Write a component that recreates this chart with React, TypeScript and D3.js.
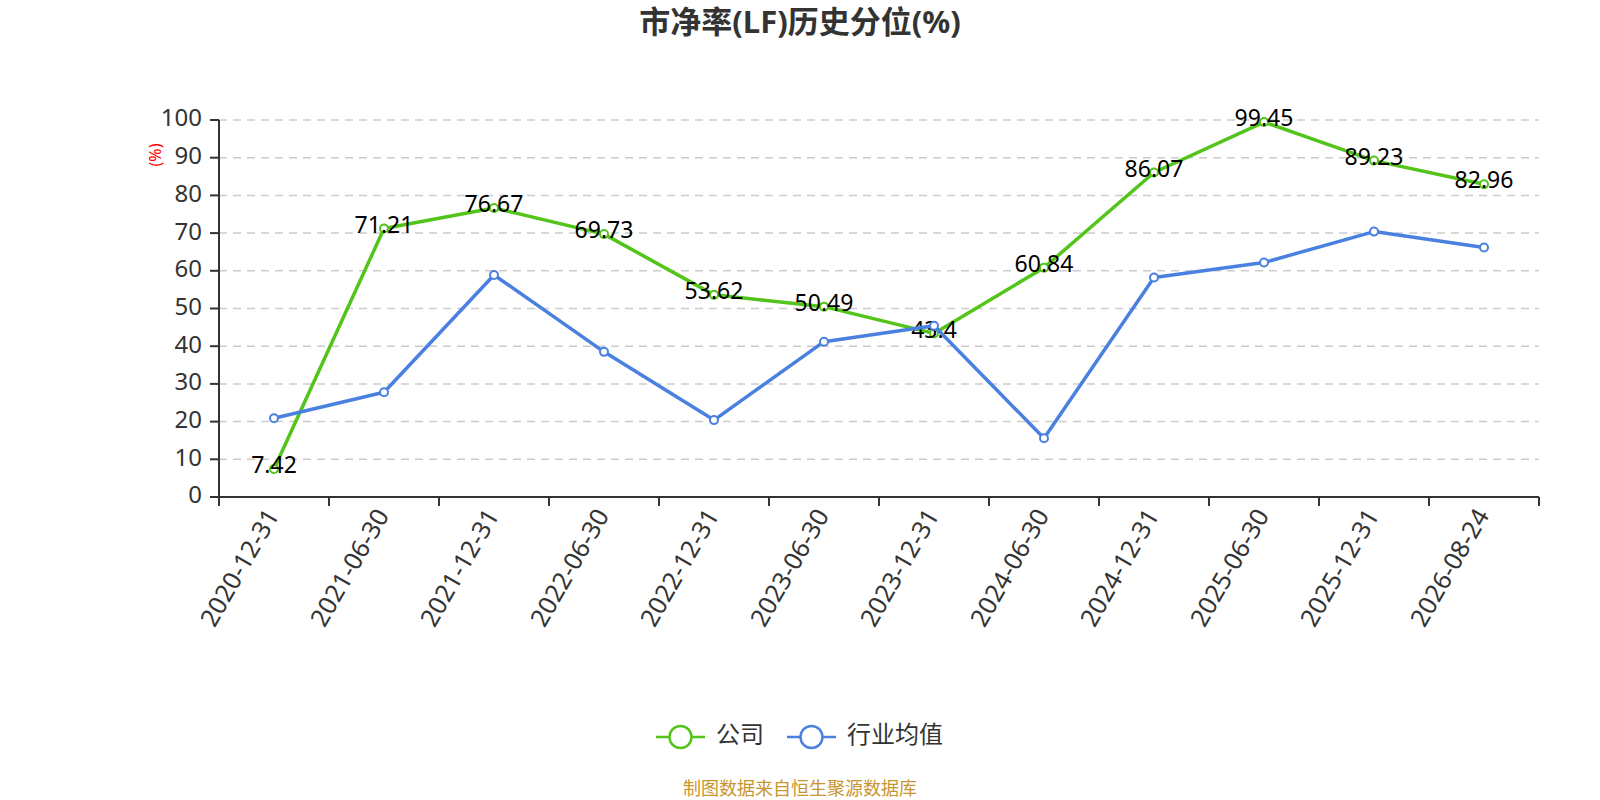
import * as d3 from 'd3';

const categories = [
  '2020-12-31', '2021-06-30', '2021-12-31', '2022-06-30', '2022-12-31', '2023-06-30',
  '2023-12-31', '2024-06-30', '2024-12-31', '2025-06-30', '2025-12-31', '2026-08-24',
];
const companyValues = [7.42, 71.21, 76.67, 69.73, 53.62, 50.49, 43.4, 60.84, 86.07, 99.45, 89.23, 82.96];
const industryValues = [20.9, 27.8, 58.9, 38.5, 20.4, 41.2, 45.4, 15.6, 58.2, 62.2, 70.4, 66.2];
const yTicks = [0, 10, 20, 30, 40, 50, 60, 70, 80, 90, 100];

const GREEN = '#52c41a';
const BLUE = '#4a80e0';
const FONT = '"Noto Sans", "Noto Sans CJK SC", sans-serif';

export default function App() {
  const width = 1600;
  const height = 800;
  const margin = { top: 120, right: 61, bottom: 303, left: 219 };
  const chartWidth = width - margin.left - margin.right;
  const chartHeight = height - margin.top - margin.bottom;

  const xScale = d3.scaleBand().domain(categories).range([0, chartWidth]);
  const yScale = d3.scaleLinear().domain([0, 100]).range([chartHeight, 0]);
  const cx = (c: string) => xScale(c)! + xScale.bandwidth() / 2;

  const line = d3.line<number>()
    .x((_, i) => cx(categories[i]))
    .y(d => yScale(d));

  const series = [
    { name: '公司', values: companyValues, color: GREEN, labels: true },
    { name: '行业均值', values: industryValues, color: BLUE, labels: false },
  ];

  return (
    <svg width={width} height={height} style={{ position: 'absolute', left: 0, top: 0, fontFamily: FONT }}>
      <rect width={width} height={height} fill="#fff" />
      {/* Title */}
      <text x={800} y={25} textAnchor="middle" dominantBaseline="middle" fontSize={31} fontWeight="bold" fill="#333">
        市净率(LF)历史分位(%)
      </text>

      <g transform={`translate(${margin.left},${margin.top})`}>
        {/* Grid lines */}
        {yTicks.filter(t => t > 0).map(t => (
          <line key={t} x1={0} x2={chartWidth} y1={yScale(t)} y2={yScale(t)}
            stroke="#ccc" strokeWidth={1.5} strokeDasharray="8,6" />
        ))}

        {/* Y axis */}
        <line x1={0} x2={0} y1={0} y2={chartHeight} stroke="#333" strokeWidth={2} />
        {yTicks.map(t => (
          <g key={t}>
            <line x1={-9} x2={0} y1={yScale(t)} y2={yScale(t)} stroke="#333" strokeWidth={2} />
            <text x={-17} y={yScale(t)} textAnchor="end" dominantBaseline="middle" fontSize={24} fill="#333">
              {t}
            </text>
          </g>
        ))}
        <text transform={`translate(${157 - margin.left},${155 - margin.top}) rotate(-90)`}
          textAnchor="middle" dominantBaseline="middle" fontSize={16} fill="red">
          (%)
        </text>

        {/* X axis */}
        <g transform={`translate(0,${chartHeight})`}>
          <line x1={0} x2={chartWidth} stroke="#333" strokeWidth={2} />
          {[...categories.map(c => xScale(c)!), chartWidth].map((x, i) => (
            <line key={i} x1={x} x2={x} y1={0} y2={9} stroke="#333" strokeWidth={2} />
          ))}
          {categories.map(c => (
            <text key={c} transform={`translate(${cx(c)},${15}) rotate(-60)`}
              textAnchor="end" dominantBaseline="middle" fontSize={25} fill="#333">
              {c}
            </text>
          ))}
        </g>

        {/* Series */}
        {series.map(s => (
          <g key={s.name}>
            <path d={line(s.values)!} fill="none" stroke={s.color} strokeWidth={3.5} strokeLinejoin="round" />
            {s.values.map((v, i) => (
              <circle key={i} cx={cx(categories[i])} cy={yScale(v)} r={4}
                fill="#fff" stroke={s.color} strokeWidth={2} />
            ))}
            {s.labels && s.values.map((v, i) => (
              <text key={`l${i}`} x={cx(categories[i])} y={yScale(v) - 2} textAnchor="middle"
                dominantBaseline="middle" fontSize={23} fill="#000">
                {v}
              </text>
            ))}
          </g>
        ))}
      </g>

      {/* Legend */}
      <g transform="translate(656,737)">
        {series.map((s, i) => {
          const ox = i === 0 ? 0 : 131;
          return (
            <g key={s.name} transform={`translate(${ox},0)`}>
              <line x1={0} x2={49} y1={0} y2={0} stroke={s.color} strokeWidth={2.5} />
              <circle cx={24.5} cy={0} r={11} fill="#fff" stroke={s.color} strokeWidth={2.5} />
              <text x={60} y={0} dominantBaseline="middle" fontSize={24} fill="#333">
                {s.name}
              </text>
            </g>
          );
        })}
      </g>

      {/* Footer */}
      <text x={800} y={790} textAnchor="middle" dominantBaseline="middle" fontSize={18} fill="#c8962e">
        制图数据来自恒生聚源数据库
      </text>
    </svg>
  );
}
